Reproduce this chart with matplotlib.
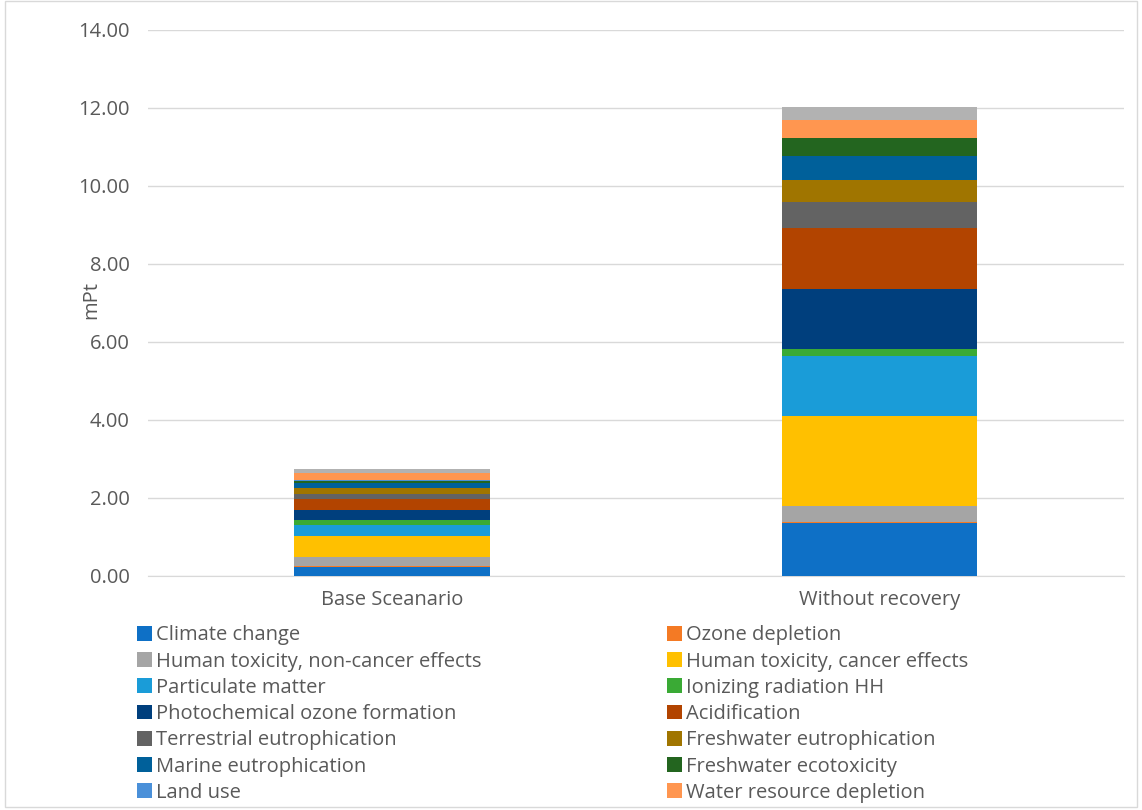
import matplotlib.pyplot as plt
import numpy as np
from matplotlib.patches import Patch, Rectangle

plt.rcParams["font.family"] = ["Open Sans", "DejaVu Sans"]

scenarios = ["Base Sceanario", "Without recovery"]

categories = [
    "Climate change", "Ozone depletion",
    "Human toxicity, non-cancer effects", "Human toxicity, cancer effects",
    "Particulate matter", "Ionizing radiation HH",
    "Photochemical ozone formation", "Acidification",
    "Terrestrial eutrophication", "Freshwater eutrophication",
    "Marine eutrophication", "Freshwater ecotoxicity",
    "Land use", "Water resource depletion",
    "Mineral, fossil & ren resource depletion",
]

# mPt per impact category
base_values = [0.24, 0.005, 0.23, 0.55, 0.27, 0.15, 0.25, 0.28,
               0.13, 0.16, 0.12, 0.06, 0.005, 0.18, 0.12]
norec_values = [1.36, 0.03, 0.40, 2.31, 1.55, 0.17, 1.55, 1.54,
                0.67, 0.58, 0.60, 0.46, 0.01, 0.46, 0.34]

colors = ["#0E70C6", "#F47A24", "#A5A5A5", "#FFC000", "#1A9CD8", "#3AAA35",
          "#003F7D", "#B24400", "#636363", "#A07500", "#00609A", "#23651F",
          "#4A90D9", "#FF9650", "#B2B2B2"]

FS = 14.5

fig = plt.figure(figsize=(11.42, 8.1), dpi=100)
ax = fig.add_axes([0.1296, 0.289, 0.8544, 0.674])

x = np.arange(len(scenarios))
bottom = np.zeros(len(scenarios))
handles = []
for name, b, n, c in zip(categories, base_values, norec_values, colors):
    vals = np.array([b, n])
    ax.bar(x, vals, width=0.4, bottom=bottom, color=c, zorder=3)
    bottom += vals
    handles.append(Patch(facecolor=c, label=name))

ax.set_xlim(-0.5, 1.5)
ax.set_ylim(0, 14)
ax.set_yticks(np.arange(0, 15, 2))
ax.set_yticklabels([f"{v:.2f}" for v in np.arange(0, 15, 2)])
ax.set_xticks(x)
ax.set_xticklabels(scenarios)
ax.tick_params(length=0, colors="#595959", labelsize=FS)
ax.tick_params(axis="y", pad=13)
ax.tick_params(axis="x", pad=10)
ax.grid(axis="y", color="#D9D9D9", linewidth=1, zorder=0)
for s in ["top", "right", "left"]:
    ax.spines[s].set_visible(False)
ax.spines["bottom"].set_color("#D9D9D9")
ax.set_ylabel("mPt", fontsize=FS, color="#595959")
ax.yaxis.set_label_coords(-0.048, 0.505)

# Excel fills legend row by row; matplotlib fills by column
shown = handles[:14]
order = list(range(0, 14, 2)) + list(range(1, 14, 2))
fig.legend([shown[i] for i in order], [shown[i].get_label() for i in order],
           ncol=2, loc="upper left", bbox_to_anchor=(0.12, 0.228),
           frameon=False, fontsize=FS, labelcolor="#595959",
           handlelength=0.75, handleheight=0.75, handletextpad=0.2,
           columnspacing=9.2, labelspacing=0.31, borderpad=0, borderaxespad=0)

fig.patches.append(Rectangle((0.004, 0.004), 0.992, 0.995, transform=fig.transFigure,
                             fill=False, edgecolor="#D9D9D9", linewidth=1))

fig.savefig("out.png", dpi=100)
